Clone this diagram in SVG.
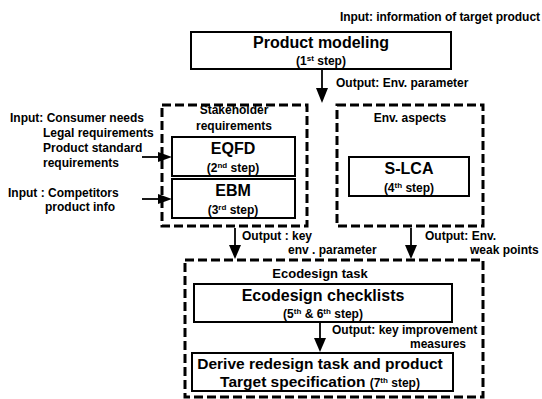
<svg xmlns="http://www.w3.org/2000/svg" width="542" height="399" viewBox="0 0 542 399">
<style>
text{font-family:"Liberation Sans",Arial,sans-serif;font-weight:bold;fill:#000}
.t12{font-size:12px}
.t13{font-size:13px}
.t16{font-size:16px}
.m{text-anchor:middle}
.box{fill:#fff;stroke:#000;stroke-width:2}
.dash{fill:none;stroke:#000;stroke-width:3;stroke-dasharray:9 4}
.ln{stroke:#000;stroke-width:1.8;fill:none}
.ah{fill:#000}
</style>
<rect width="542" height="399" fill="#fff"/>

<g id="input-top">
<text class="t12" x="340" y="21" textLength="200">Input: information of target product</text>
</g>

<g id="product-modeling">
<rect class="box" x="191" y="32" width="260" height="37"/>
<text class="t16 m" x="321" y="48">Product modeling</text>
<text class="t12 m" x="321" y="65">(1<tspan font-size="8" dy="-4">st</tspan><tspan dy="4"> step)</tspan></text>
</g>

<g id="stakeholder">
<rect class="dash" x="162" y="105" width="145" height="121"/>
<text class="t12 m" x="234" y="114">Stakeholder</text>
<text class="t12 m" x="234" y="130">requirements</text>
</g>

<g id="eqfd">
<rect class="box" x="172" y="137" width="123" height="39"/>
<text class="t16 m" x="233" y="154">EQFD</text>
<text class="t12 m" x="233" y="172">(2<tspan font-size="8" dy="-4">nd</tspan><tspan dy="4"> step)</tspan></text>
</g>

<g id="ebm">
<rect class="box" x="172" y="179" width="123" height="39"/>
<text class="t16 m" x="233" y="196">EBM</text>
<text class="t12 m" x="233" y="214">(3<tspan font-size="8" dy="-4">rd</tspan><tspan dy="4"> step)</tspan></text>
</g>

<g id="env-aspects">
<rect class="dash" x="337" y="105" width="146" height="121"/>
<text class="t12 m" x="410" y="122">Env. aspects</text>
</g>

<g id="slca">
<rect class="box" x="349" y="157" width="120" height="39"/>
<text class="t16 m" x="409" y="174">S-LCA</text>
<text class="t12 m" x="409" y="192">(4<tspan font-size="8" dy="-4">th</tspan><tspan dy="4"> step)</tspan></text>
</g>

<g id="input-left">
<text class="t12" x="10" y="122">Input: Consumer needs</text>
<text class="t12" x="43" y="137">Legal requirements</text>
<text class="t12" x="43" y="152">Product standard</text>
<text class="t12" x="43" y="167">requirements</text>
<text class="t12" x="8" y="197">Input : Competitors</text>
<text class="t12" x="45" y="211">product info</text>
</g>

<g id="ecodesign-task">
<rect class="dash" x="185" y="260" width="298" height="137"/>
<text class="t13 m" x="320" y="278">Ecodesign task</text>
</g>

<g id="checklists">
<rect class="box" x="194" y="284" width="258" height="38"/>
<text class="t16 m" x="323" y="301">Ecodesign checklists</text>
<text class="t12 m" x="323" y="318">(5<tspan font-size="8" dy="-4">th</tspan><tspan dy="4"> &amp; 6</tspan><tspan font-size="8" dy="-4">th</tspan><tspan dy="4"> step)</tspan></text>
</g>

<g id="derive">
<rect class="box" x="192" y="353" width="261" height="38"/>
<text class="m" font-size="15.5" x="320" y="369">Derive redesign task and product</text>
<text class="m" font-size="15.5" x="320" y="387">Target specification <tspan font-size="12">(7</tspan><tspan font-size="8" dy="-4">th</tspan><tspan font-size="12" dy="4"> step)</tspan></text>
</g>

<g id="connectors">
<line class="ln" x1="322" y1="70" x2="322" y2="90"/>
<polygon class="ah" points="316,88 328,88 322,103"/>
<text class="t12" x="336" y="87">Output: Env. parameter</text>

<line class="ln" x1="142" y1="157" x2="160" y2="157"/>
<polygon class="ah" points="158,152 158,162 172,157"/>
<line class="ln" x1="142" y1="199" x2="160" y2="199"/>
<polygon class="ah" points="158,194 158,204 172,199"/>

<line class="ln" x1="235" y1="228" x2="235" y2="247"/>
<polygon class="ah" points="229,245 241,245 235,259"/>
<text class="t12" x="242" y="240">Output : key</text>
<text class="t12" x="288" y="254">env . parameter</text>

<line class="ln" x1="411" y1="228" x2="411" y2="247"/>
<polygon class="ah" points="405,245 417,245 411,259"/>
<text class="t12" x="425" y="240">Output: Env.</text>
<text class="t12" x="470" y="254">weak points</text>

<line class="ln" x1="320" y1="323" x2="320" y2="340"/>
<polygon class="ah" points="314,338 326,338 320,352"/>
<text class="t12" x="332" y="334">Output: key improvement</text>
<text class="t12" x="410" y="348">measures</text>
</g>
</svg>
